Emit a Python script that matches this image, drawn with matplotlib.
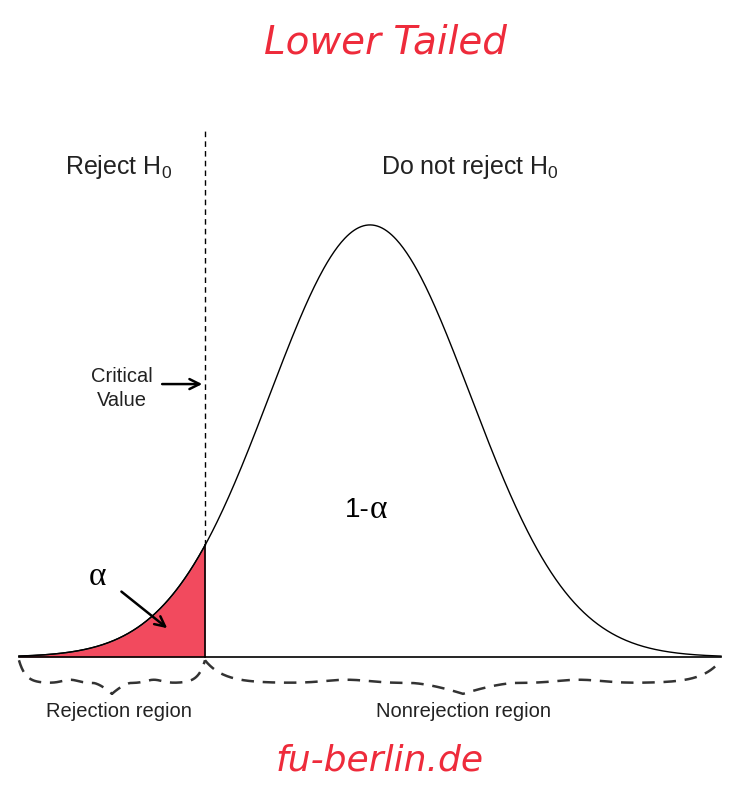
import numpy as np
import matplotlib
matplotlib.use("Agg")
import matplotlib.pyplot as plt

# Data
z_min, z_max = -3.5, 3.5
z_crit = -1.645
region_labels = ["Rejection region", "Nonrejection region"]
header_labels = ["Reject H$_0$", "Do not reject H$_0$"]
alpha_label = "α"
one_minus_alpha = ["1-", "α"]
title_text = "Lower Tailed"
footer_text = "fu-berlin.de"

plt.rcParams['font.family'] = ['Liberation Sans', 'DejaVu Sans']
plt.rcParams['mathtext.fontset'] = 'custom'
plt.rcParams['mathtext.rm'] = 'Liberation Sans'
plt.rcParams['mathtext.it'] = 'Liberation Sans'

fig = plt.figure(figsize=(7.47, 7.95), dpi=100)
ax = fig.add_axes([0, 0, 1, 1])
ax.set_xlim(-3.689, 3.759)
ax.set_ylim(-0.1274, 0.6066)
ax.axis('off')

def pdf(z):
    return np.exp(-z**2 / 2) / np.sqrt(2 * np.pi)

z = np.linspace(z_min, z_max, 600)
ax.plot(z, pdf(z), color='black', lw=1.0)
ax.plot([z_min, z_max], [0, 0], color='black', lw=1.2)

zf = np.linspace(z_min, z_crit, 300)
ax.fill_between(zf, 0, pdf(zf), color='#f24a5e', lw=0)
ax.plot(zf, pdf(zf), color='black', lw=1.0)
ax.plot([z_crit, z_crit], [0, pdf(z_crit)], color='black', lw=1.2)

# dashed critical line
ax.plot([z_crit, z_crit], [pdf(z_crit), 0.4866], color='black', lw=1.0,
        linestyle=(0, (4, 3)))

# headers
ax.text(-2.51, 0.4520, header_labels[0], ha='center', va='center', fontsize=18,
        color='#222222')
ax.text(1.0, 0.4520, header_labels[1], ha='center', va='center', fontsize=18,
        color='#222222')

# critical value annotation
ax.annotate("", xy=(z_crit, 0.252), xytext=(-2.1, 0.252),
            arrowprops=dict(arrowstyle='->', lw=1.8, color='black',
                            mutation_scale=18))
ax.text(-2.47, 0.2480, "Critical\nValue", ha='center', va='center',
        fontsize=14.5, linespacing=1.35, color='#222222', multialignment='center')

# alpha annotation
ax.text(-2.72, 0.0739, alpha_label, ha='center', va='center', fontsize=24,
        family=['Liberation Serif'])
ax.annotate("", xy=(-2.0, 0.025), xytext=(-2.5, 0.062),
            arrowprops=dict(arrowstyle='->', lw=1.8, color='black',
                            mutation_scale=18))

# 1 - alpha
ax.text(0.0, 0.1360, one_minus_alpha[0], ha='right', va='center', fontsize=20)
ax.text(0.0, 0.1360, one_minus_alpha[1], ha='left', va='center', fontsize=24,
        family=['Liberation Serif'])

# braces
def brace(x0, x1):
    xm = (x0 + x1) / 2
    t = np.linspace(0, 1, 200)
    xs_l = x0 + (xm - x0) * t
    ys = -0.003 - 0.021 * (1 - np.exp(-t * 14))
    dip = np.where(t > 0.8, -0.01 * ((t - 0.8) / 0.2) ** 1.5, 0)
    bump = 0.003 * np.exp(-((t - 0.55) / 0.12) ** 2)
    yl = ys + dip + bump
    xs = np.concatenate([xs_l, (x1 - (xm - x0) * t)[::-1]])
    ysall = np.concatenate([yl, yl[::-1]])
    ax.plot(xs, ysall, color='#333333', lw=1.8, linestyle=(0, (5, 3.5)))

brace(z_min, z_crit)
brace(z_crit, z_max)

ax.text((z_min + z_crit) / 2 + 0.07, -0.0499, region_labels[0], ha='center',
        va='center', fontsize=14.5, color='#222222')
ax.text((z_crit + z_max) / 2, -0.0499, region_labels[1], ha='center',
        va='center', fontsize=14.5, color='#222222')

# handwritten-like labels
ax.text(0.15, 0.5678, title_text, ha='center', va='center', fontsize=28,
        color='#ee2b3b', family=['DejaVu Sans'], style='italic', weight='light')
ax.text(0.1, -0.0960, footer_text, ha='center', va='center', fontsize=26,
        color='#ee2b3b', family=['DejaVu Sans'], style='italic', weight='light')

fig.savefig("out.png", dpi=100)
